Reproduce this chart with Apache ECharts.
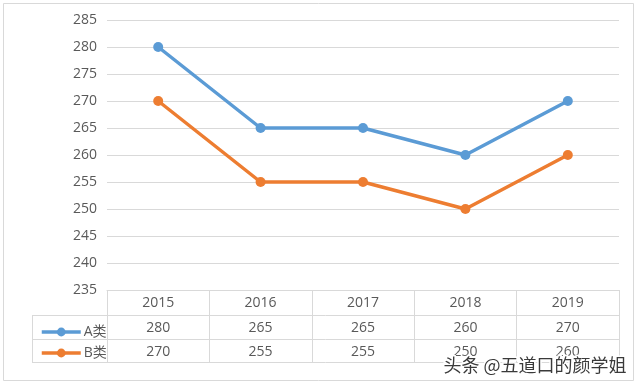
<!DOCTYPE html>
<html>
<head>
<meta charset="utf-8">
<script src="https://cdn.jsdelivr.net/npm/echarts@6/dist/echarts.min.js"></script>
<style>html,body{margin:0;padding:0;background:#fff}#c{width:640px;height:385px}</style>
</head>
<body>
<div id="c"></div>
<script>
var categories = ['2015', '2016', '2017', '2018', '2019'];
var seriesNames = ['A类', 'B类'];
var valuesA = [280, 265, 265, 260, 270];
var valuesB = [270, 255, 255, 250, 260];
var yTicks = [235, 240, 245, 250, 255, 260, 265, 270, 275, 280, 285];

var chart = echarts.init(document.getElementById('c'));
var font = '"Open Sans", "Noto Sans CJK SC", sans-serif';
var gridC = '#d9d9d9';
var textC = '#595959';
var fs = 14;
function rowAxis(offset, fmt) {
  return {
    type: 'category', data: categories, position: 'bottom', offset: offset,
    boundaryGap: true,
    axisLine: {show: false},
    axisTick: {show: false},
    axisLabel: {show: true, interval: 0, margin: 6, color: textC, fontSize: fs, fontFamily: font, formatter: fmt}
  };
}
var option = {
  animation: false,
  backgroundColor: '#fff',
  grid: {left: 107, right: 21, top: 20, bottom: 95},
  legend: {
    orient: 'vertical', left: 35, top: 320, itemGap: 7,
    itemWidth: 39, itemHeight: 11,
    lineStyle: {width: 3.5},
    textStyle: {color: textC, fontSize: fs, fontFamily: font, padding: [0, 0, 0, -2]},
    data: seriesNames
  },
  xAxis: [
    {
      type: 'category', data: categories, position: 'bottom', offset: 0,
      boundaryGap: true,
      axisLine: {show: true, lineStyle: {color: gridC, width: 1}},
      axisTick: {show: true, interval: 0, length: 73, lineStyle: {color: gridC, width: 1}},
      axisLabel: {interval: 0, margin: 6, color: textC, fontSize: fs, fontFamily: font}
    },
    rowAxis(25, function (v, i) { return String(valuesA[i]); }),
    rowAxis(49, function (v, i) { return String(valuesB[i]); })
  ],
  yAxis: {
    type: 'value', min: yTicks[0], max: yTicks[yTicks.length - 1], interval: 5,
    axisLine: {show: false}, axisTick: {show: false},
    splitLine: {lineStyle: {color: gridC, width: 1}},
    axisLabel: {color: textC, fontSize: fs, fontFamily: font, margin: 10}
  },
  series: [
    {name: seriesNames[0], type: 'line', data: valuesA, xAxisIndex: 0,
     symbol: 'circle', symbolSize: 10,
     lineStyle: {width: 3.5, color: '#5B9BD5'}, itemStyle: {color: '#5B9BD5'}},
    {name: seriesNames[1], type: 'line', data: valuesB, xAxisIndex: 0,
     symbol: 'circle', symbolSize: 10,
     lineStyle: {width: 3.5, color: '#ED7D31'}, itemStyle: {color: '#ED7D31'}}
  ],
  graphic: [
    {type: 'rect', shape: {x: 3.5, y: 3.5, width: 630, height: 377}, style: {fill: 'none', stroke: gridC, lineWidth: 1}, silent: true},
    {type: 'line', shape: {x1: 32, y1: 315.5, x2: 619, y2: 315.5}, style: {stroke: gridC, lineWidth: 1}},
    {type: 'line', shape: {x1: 32, y1: 339.5, x2: 619, y2: 339.5}, style: {stroke: gridC, lineWidth: 1}},
    {type: 'line', shape: {x1: 32, y1: 362.5, x2: 619, y2: 362.5}, style: {stroke: gridC, lineWidth: 1}},
    {type: 'line', shape: {x1: 32.5, y1: 315, x2: 32.5, y2: 363}, style: {stroke: gridC, lineWidth: 1}},
    {type: 'text', right: 12, top: 355, z: 100,
     style: {text: '头条 @五道口的颜学姐', fill: '#3a3a3a', stroke: '#ffffff', lineWidth: 3, fontSize: 18, fontFamily: '"Noto Sans CJK SC", sans-serif'}}
  ]
};
chart.setOption(option);
</script>
</body>
</html>
